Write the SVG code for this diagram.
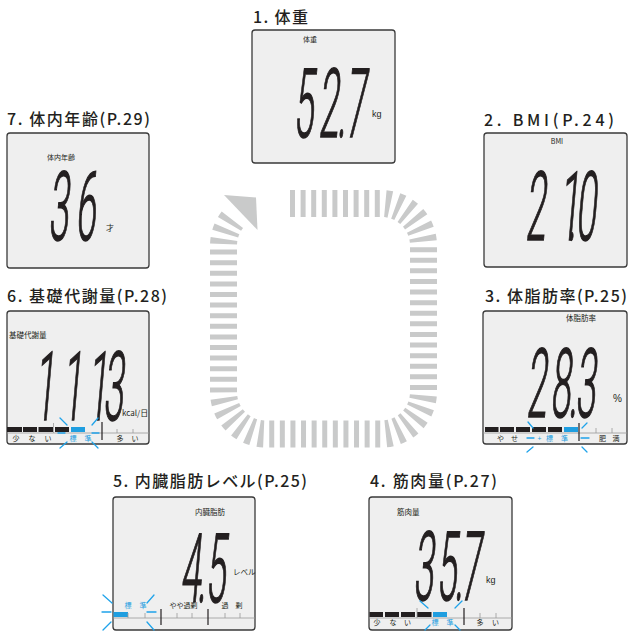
<svg xmlns="http://www.w3.org/2000/svg" width="630" height="631" viewBox="0 0 630 631">
<style>
.title{font-family:"Noto Sans CJK JP","Noto Sans",sans-serif;font-size:16px;font-weight:500;fill:#231f20}
.panel{fill:#efefef;stroke:#3a3a3a;stroke-width:1.3}
.lbl{font-family:"Noto Sans CJK JP","Noto Sans",sans-serif;font-size:7.5px;fill:#231f20}
.unit{font-family:"Liberation Sans","Noto Sans CJK JP",sans-serif;font-size:9px;fill:#231f20}
.seg{font-family:Roboto,"Liberation Sans",sans-serif;font-weight:300;font-size:96px;fill:#231f20;stroke:#231f20;stroke-width:1.5}
.blk{fill:#231f20}
.blu{fill:#1f9ee0}
.bt{font-family:"Noto Sans CJK JP",sans-serif;font-size:7px;fill:#231f20;text-anchor:middle}
.bline{stroke:#9a9a9a;stroke-width:0.8;fill:none}
.vline{stroke:#231f20;stroke-width:1.2}
.glow{stroke:#1fa3ea;stroke-width:1.3;stroke-linecap:round;fill:none}
.ring{fill:none;stroke:#c9caca;stroke-width:27;stroke-dasharray:5 5.6}
</style>

<g id="connectors">
  <path class="ring" d="M 290 203.5 H 381.5 A 42 42 0 0 1 423.5 245.5 V 392 A 42 42 0 0 1 381.5 434 H 265.5 A 42 42 0 0 1 223.5 392 V 245.5 A 42 42 0 0 1 235.8 215.8"/>
  <polygon points="224,195 256,197.5 257.5,230" fill="#c9caca"/>
</g>

<g id="node1">
  <text class="title" x="253" y="23" textLength="55" lengthAdjust="spacing">1. 体重</text>
  <rect class="panel" x="252" y="30" width="143" height="133" rx="3"/>
  <text class="lbl" x="303" y="42" style="font-size:7px">体重</text>
  <text class="seg" transform="translate(293,137) skewX(-5) scale(0.38,1)" x="0 66 116 137" y="0">52.7</text>
  <text class="unit" x="372" y="117">kg</text>
</g>

<g id="node2">
  <text class="title" x="484" y="126" textLength="130" lengthAdjust="spacing">2. BMI(P.24)</text>
  <rect class="panel" x="484" y="133" width="143" height="134" rx="3"/>
  <text class="lbl" x="557" y="144" text-anchor="middle" style="font-size:7px">BMI</text>
  <text class="seg" transform="translate(525,240) skewX(-5) scale(0.38,1)" x="0 89 111 132" y="0">21.0</text>
</g>

<g id="node7">
  <text class="title" x="7" y="125" textLength="143" lengthAdjust="spacing">7. 体内年齢(P.29)</text>
  <rect class="panel" x="7" y="133" width="142" height="135" rx="3"/>
  <text class="lbl" x="47" y="160" style="font-size:7px">体内年齢</text>
  <text class="seg" transform="translate(48,240) skewX(-5) scale(0.38,1)" x="0 71" y="0">36</text>
  <text class="lbl" x="106" y="231" style="font-size:8px">才</text>
</g>

<g id="node6">
  <text class="title" x="7" y="302" textLength="160" lengthAdjust="spacing">6. 基礎代謝量(P.28)</text>
  <rect class="panel" x="7" y="311" width="142" height="133" rx="3"/>
  <text class="lbl" x="9" y="338">基礎代謝量</text>
  <text class="seg" transform="translate(28,420) skewX(-5) scale(0.38,1)" x="16 89 155 197" y="0">1113</text>
  <text class="lbl" x="122" y="416" style="font-size:8px">kcal/日</text>
  <rect class="blk" x="7" y="427" width="15" height="5"/>
  <rect class="blk" x="23" y="427" width="14" height="5"/>
  <rect class="blk" x="38.5" y="427" width="14.5" height="5"/>
  <rect class="blk" x="55" y="427" width="14" height="5"/>
  <rect class="blu" x="71" y="427" width="14" height="5"/>
  <line class="bline" x1="7" y1="433" x2="149" y2="433"/>
  <line class="bline" x1="53.5" y1="423" x2="53.5" y2="433"/>
  <line class="bline" x1="117" y1="429" x2="117" y2="433"/>
  <line class="bline" x1="133" y1="429" x2="133" y2="433"/>
  <line class="vline" x1="102" y1="422" x2="102" y2="440"/>
  <text class="bt" x="16" y="441">少</text>
  <text class="bt" x="32" y="441">な</text>
  <text class="bt" x="48" y="441">い</text>
  <text class="bt" x="73" y="441" style="fill:#1f9ee0">標</text>
  <text class="bt" x="88" y="441" style="fill:#1f9ee0">準</text>
  <text class="bt" x="120" y="441">多</text>
  <text class="bt" x="135" y="441">い</text>
  <path class="glow" d="M60 418 L67 425 M98 418 L92 425 M58 433 H65 M92 433 H99 M67 442 L60 448 M92 442 L98 448"/>
</g>

<g id="node3">
  <text class="title" x="485" y="302" textLength="142" lengthAdjust="spacing">3. 体脂肪率(P.25)</text>
  <rect class="panel" x="483" y="311" width="144" height="133" rx="3"/>
  <text class="lbl" x="566" y="321">体脂肪率</text>
  <text class="seg" transform="translate(526,417) skewX(-5) scale(0.38,1)" x="0 63 111 129" y="0">28.3</text>
  <text class="unit" x="613" y="402" style="font-size:10px">%</text>
  <rect class="blk" x="485" y="427" width="13.5" height="5"/>
  <rect class="blk" x="500" y="427" width="14" height="5"/>
  <rect class="blk" x="516" y="427" width="14" height="5"/>
  <rect class="blk" x="532" y="427" width="14" height="5"/>
  <rect class="blk" x="548" y="427" width="14" height="5"/>
  <rect class="blu" x="564" y="427" width="14" height="5"/>
  <line class="bline" x1="483" y1="433" x2="627" y2="433"/>
  <line class="bline" x1="596" y1="428" x2="596" y2="433"/>
  <line class="bline" x1="612" y1="428" x2="612" y2="433"/>
  <line class="vline" x1="579" y1="423" x2="579" y2="441"/>
  <text class="bt" x="500.5" y="441">や</text>
  <text class="bt" x="514.5" y="441">せ</text>
  <text class="bt" x="539.5" y="441" style="fill:#1f9ee0">+</text>
  <text class="bt" x="549.5" y="441" style="fill:#1f9ee0">標</text>
  <text class="bt" x="564.5" y="441" style="fill:#1f9ee0">準</text>
  <text class="bt" x="602.5" y="441">肥</text>
  <text class="bt" x="616" y="441">満</text>
  <path class="glow" d="M528 422 L533 428 M587 423 L582 428 M527 438 H534 M581 438 H589 M533 447 L527 452 M582 447 L587 452"/>
</g>

<g id="node5">
  <text class="title" x="113" y="487" textLength="194" lengthAdjust="spacing">5. 内臓脂肪レベル(P.25)</text>
  <rect class="panel" x="113" y="497" width="142" height="133" rx="3"/>
  <text class="lbl" x="195" y="515">内臓脂肪</text>
  <text class="seg" transform="translate(180,602) skewX(-5) scale(0.38,1)" x="0 45 66" y="0">4.5</text>
  <text class="lbl" x="233" y="575">レベル</text>
  <rect class="blu" x="113.5" y="612" width="14.5" height="5"/>
  <line class="bline" x1="113" y1="618" x2="255" y2="618"/>
  <line class="bline" x1="128" y1="613" x2="128" y2="618"/>
  <line class="bline" x1="145" y1="613" x2="145" y2="618"/>
  <line class="bline" x1="177" y1="613" x2="177" y2="618"/>
  <line class="bline" x1="192" y1="613" x2="192" y2="618"/>
  <line class="bline" x1="225" y1="613" x2="225" y2="618"/>
  <line class="bline" x1="240" y1="613" x2="240" y2="618"/>
  <line class="vline" x1="161" y1="609" x2="161" y2="625"/>
  <line class="vline" x1="208" y1="609" x2="208" y2="625"/>
  <text class="bt" x="128" y="608" style="fill:#1f9ee0">標</text>
  <text class="bt" x="143" y="608" style="fill:#1f9ee0">準</text>
  <text class="bt" x="183.5" y="608">やや過剰</text>
  <text class="bt" x="225" y="608">過</text>
  <text class="bt" x="239" y="608">剰</text>
  <path class="glow" d="M103 595 L112 603 M154 595 L147 603 M102 612 H111 M147 612 H156 M111 622 L103 630 M147 622 L154 630"/>
</g>

<g id="node4">
  <text class="title" x="370" y="487" textLength="127" lengthAdjust="spacing">4. 筋肉量(P.27)</text>
  <rect class="panel" x="369" y="497" width="143" height="133" rx="3"/>
  <text class="lbl" x="397" y="515">筋肉量</text>
  <text class="seg" transform="translate(413,600) skewX(-5) scale(0.38,1)" x="0 60.5 108.5 124" y="0">35.7</text>
  <text class="unit" x="486" y="583">kg</text>
  <rect class="blk" x="369.5" y="612" width="13.5" height="5"/>
  <rect class="blk" x="385" y="612" width="14" height="5"/>
  <rect class="blk" x="401" y="612" width="14" height="5"/>
  <rect class="blk" x="417" y="612" width="14.5" height="5"/>
  <rect class="blu" x="433" y="612" width="14" height="5"/>
  <line class="bline" x1="369" y1="618" x2="512" y2="618"/>
  <line class="bline" x1="417" y1="608" x2="417" y2="618"/>
  <line class="bline" x1="480" y1="613" x2="480" y2="618"/>
  <line class="bline" x1="496" y1="613" x2="496" y2="618"/>
  <line class="vline" x1="464" y1="608" x2="464" y2="625"/>
  <text class="bt" x="377" y="625">少</text>
  <text class="bt" x="393" y="625">な</text>
  <text class="bt" x="407.5" y="625">い</text>
  <text class="bt" x="435" y="625" style="fill:#1f9ee0">標</text>
  <text class="bt" x="450" y="625" style="fill:#1f9ee0">準</text>
  <text class="bt" x="480" y="625">多</text>
  <text class="bt" x="495.5" y="625">い</text>
  <path class="glow" d="M420 601 L428 608 M462 601 L455 608 M430 625 L425 630 M455 625 L460 630"/>
</g>
</svg>
